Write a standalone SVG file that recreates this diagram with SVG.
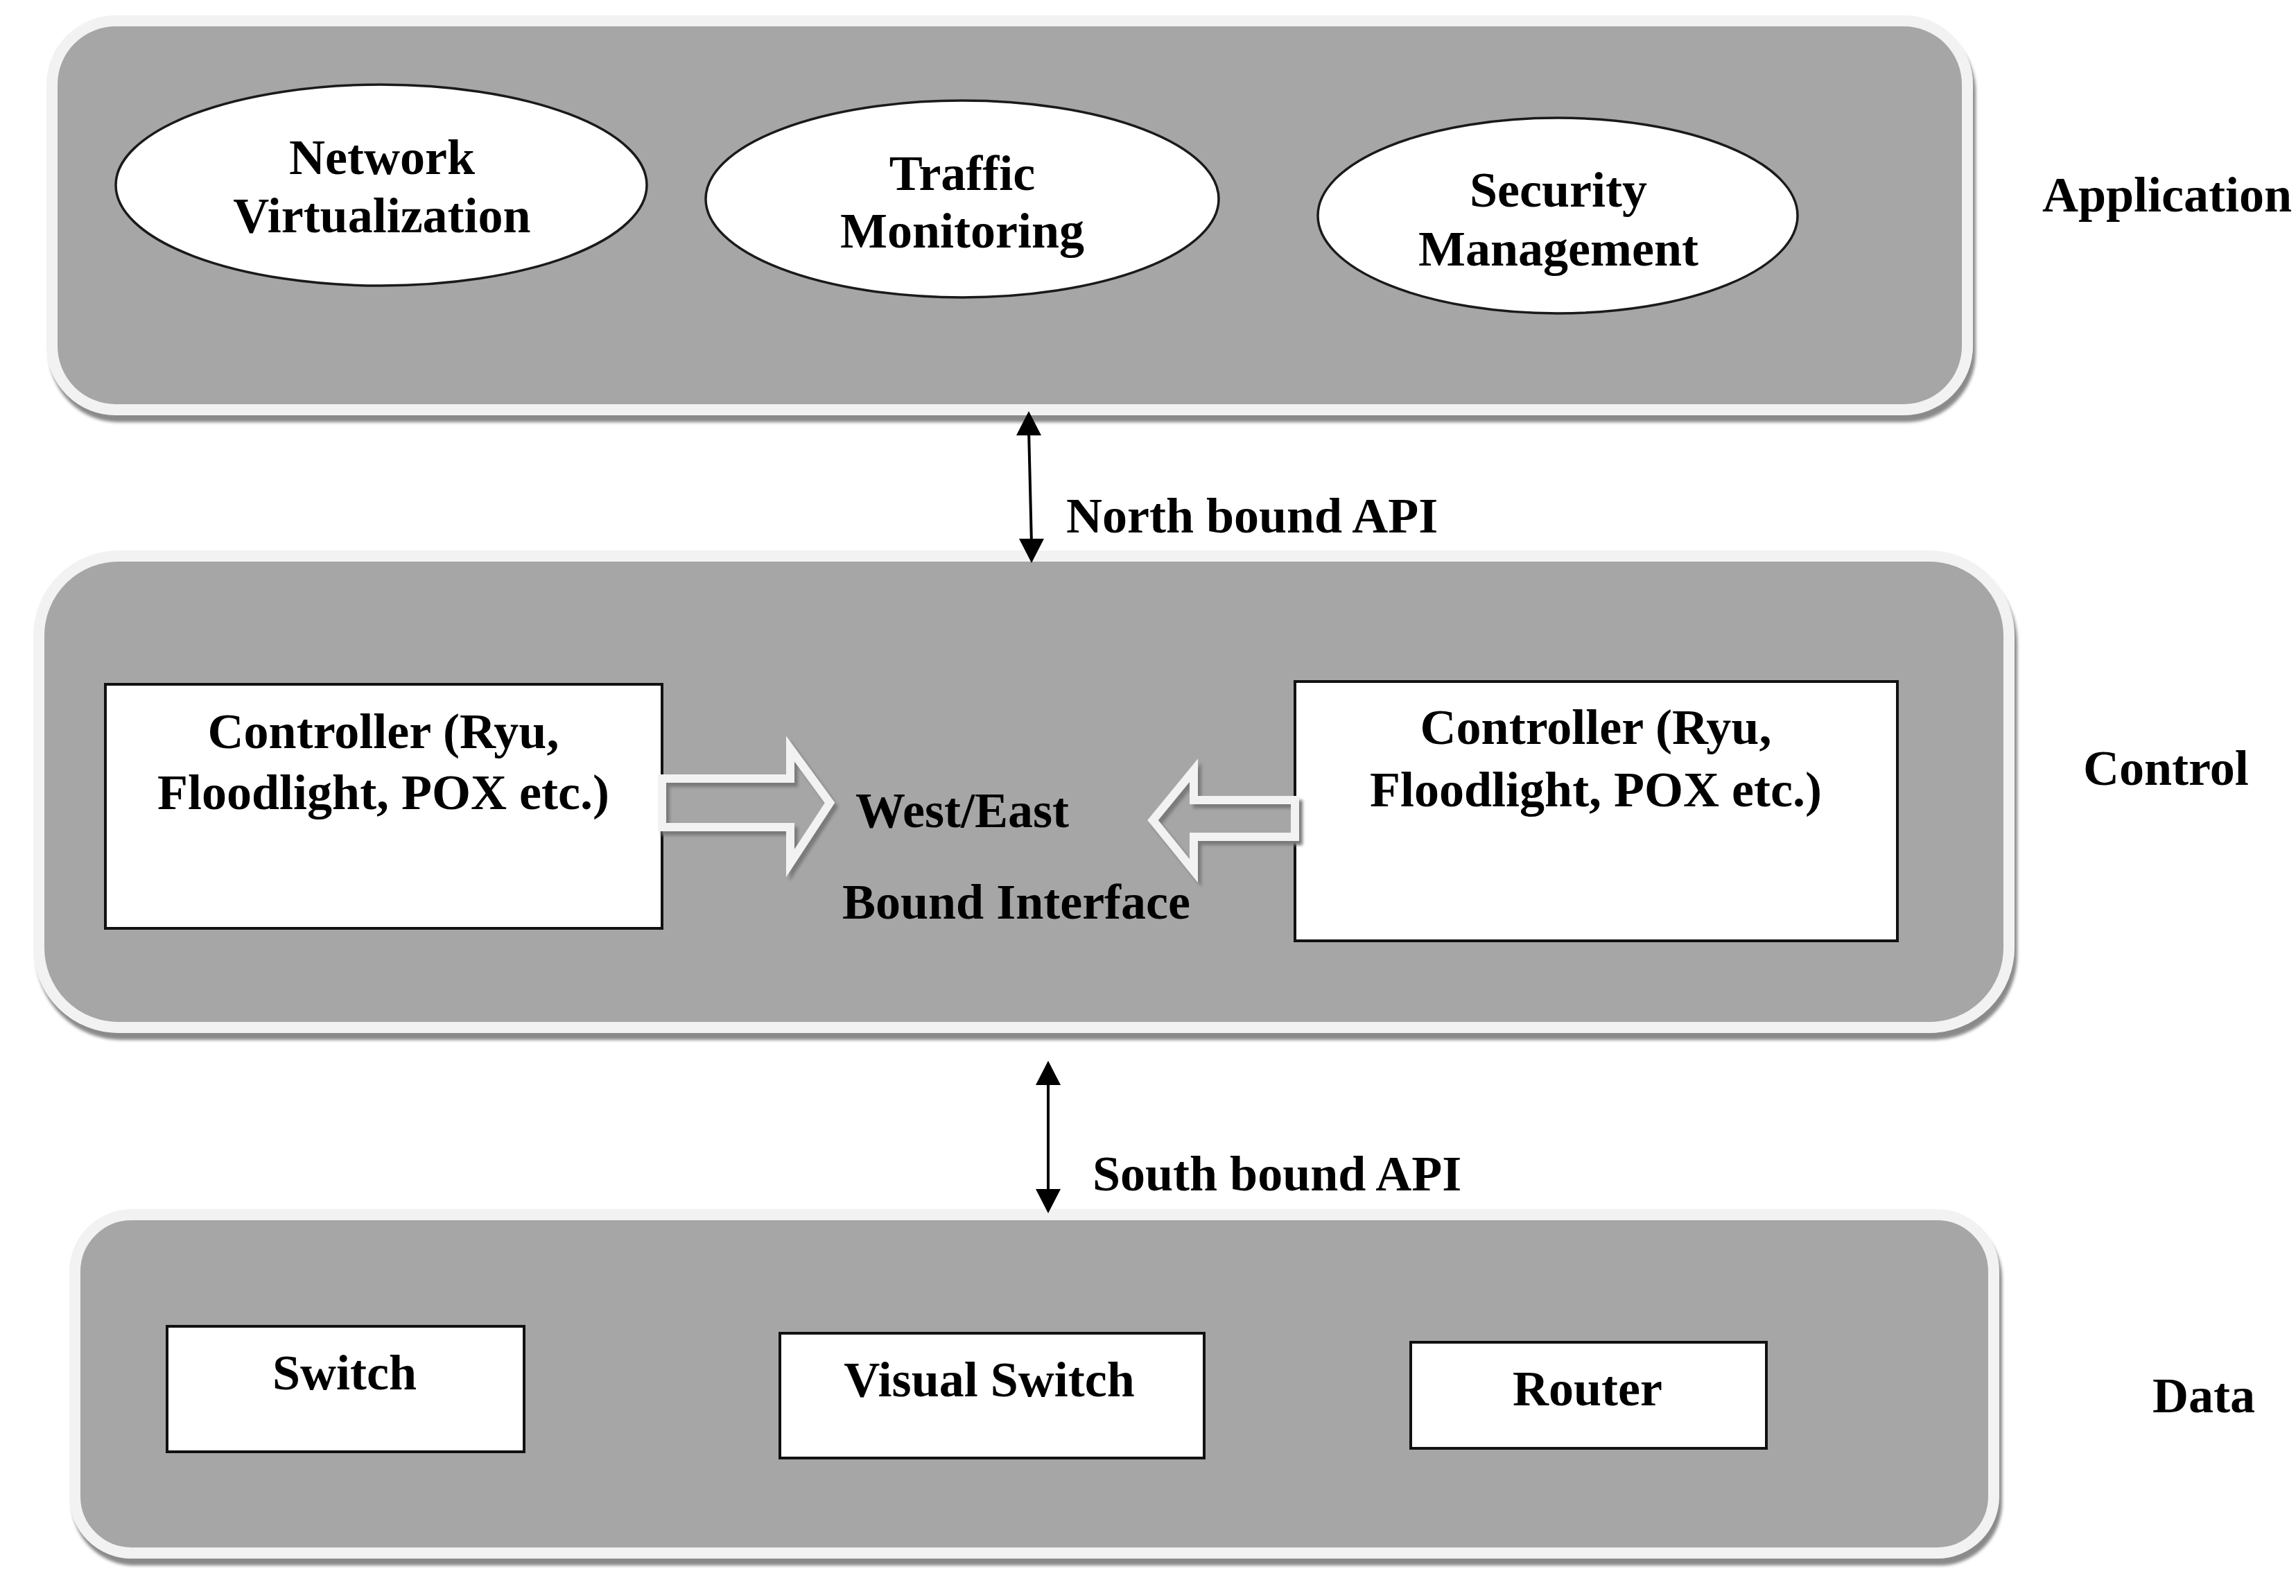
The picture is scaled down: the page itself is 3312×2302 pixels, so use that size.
<svg xmlns="http://www.w3.org/2000/svg" width="3312" height="2302" viewBox="0 0 3312 2302">
<defs>
<style>
.panel{fill:#a6a6a6;stroke:#f2f2f2;stroke-width:16;filter:url(#pshadow)}
.ell{fill:#ffffff;stroke:#1a1a1a;stroke-width:3.5}
.box{fill:#ffffff;stroke:#111111;stroke-width:4}
.t{font-family:"Liberation Serif","Times New Roman",serif;font-weight:bold;font-size:72px;fill:#000000}
.c{text-anchor:middle}
.blk{fill:none;stroke:#f2f2f2;stroke-width:12;stroke-linejoin:miter;stroke-miterlimit:10;filter:url(#ashadow)}
.ln{stroke:#000000;stroke-width:4;fill:none}
.hd{fill:#000000}
</style>
<filter id="pshadow" x="-5%" y="-5%" width="110%" height="115%">
<feDropShadow dx="4" dy="10" stdDeviation="2" flood-color="#8a8a8a" flood-opacity="1"/>
</filter>
<filter id="ashadow" x="-20%" y="-20%" width="140%" height="140%">
<feDropShadow dx="5" dy="6" stdDeviation="2" flood-color="#7a7a7a" flood-opacity="1"/>
</filter>
</defs>
<rect width="3312" height="2302" fill="#ffffff"/>

<g id="layer-application">
<rect class="panel" x="75" y="30" width="2763" height="561" rx="92" ry="92"/>
<text class="t" x="2946" y="305">Application</text>
</g>
<g id="layer-control">
<rect class="panel" x="56" y="802" width="2842" height="680" rx="115" ry="115"/>
<text class="t" x="3005" y="1132">Control</text>
</g>
<g id="layer-data">
<rect class="panel" x="108" y="1752" width="2768" height="488" rx="82" ry="82"/>
<text class="t" x="3105" y="2037">Data</text>
</g>

<g id="node-network-virtualization">
<ellipse class="ell" cx="550" cy="267" rx="383" ry="145"/>
<text class="t c" x="551" y="251">Network</text>
<text class="t c" x="551" y="335">Virtualization</text>
</g>
<g id="node-traffic-monitoring">
<ellipse class="ell" cx="1388" cy="287" rx="370" ry="142"/>
<text class="t c" x="1388" y="274">Traffic</text>
<text class="t c" x="1388" y="357">Monitoring</text>
</g>
<g id="node-security-management">
<ellipse class="ell" cx="2247" cy="311" rx="346" ry="141"/>
<text class="t c" x="2248" y="298">Security</text>
<text class="t c" x="2248" y="383">Management</text>
</g>

<g id="node-controller-1">
<rect class="box" x="152" y="987" width="803" height="352"/>
<text class="t c" x="553" y="1079">Controller (Ryu,</text>
<text class="t c" x="553" y="1167">Floodlight, POX etc.)</text>
</g>
<g id="node-controller-2">
<rect class="box" x="1868" y="983" width="869" height="374"/>
<text class="t c" x="2302" y="1073">Controller (Ryu,</text>
<text class="t c" x="2302" y="1163">Floodlight, POX etc.)</text>
</g>
<g id="node-westeast">
<text class="t" x="1234" y="1193">West/East</text>
<text class="t" x="1215" y="1325">Bound Interface</text>
</g>

<g id="node-switch">
<rect class="box" x="241" y="1913" width="515" height="181"/>
<text class="t c" x="497" y="2004">Switch</text>
</g>
<g id="node-visual-switch">
<rect class="box" x="1125" y="1923" width="612" height="180"/>
<text class="t c" x="1427" y="2014">Visual Switch</text>
</g>
<g id="node-router">
<rect class="box" x="2035" y="1936" width="513" height="153"/>
<text class="t c" x="2290" y="2027">Router</text>
</g>

<g id="connectors">
<path class="blk" d="M955,1123 L1140,1123 L1140,1080 L1197,1158 L1140,1245 L1140,1193 L955,1193 Z"/>
<path class="blk" d="M1868,1154 L1722,1154 L1722,1111 L1663,1183 L1722,1256 L1722,1207 L1868,1207 Z"/>
<line class="ln" x1="1484" y1="620" x2="1488" y2="785"/>
<polygon class="hd" points="1484,593 1466,628 1502,628"/>
<polygon class="hd" points="1488,812 1470,777 1506,777"/>
<text class="t" x="1538" y="768">North bound API</text>
<line class="ln" x1="1512" y1="1560" x2="1512" y2="1720"/>
<polygon class="hd" points="1512,1530 1494,1565 1530,1565"/>
<polygon class="hd" points="1512,1750 1494,1715 1530,1715"/>
<text class="t" x="1576" y="1717">South bound API</text>
</g>
</svg>
